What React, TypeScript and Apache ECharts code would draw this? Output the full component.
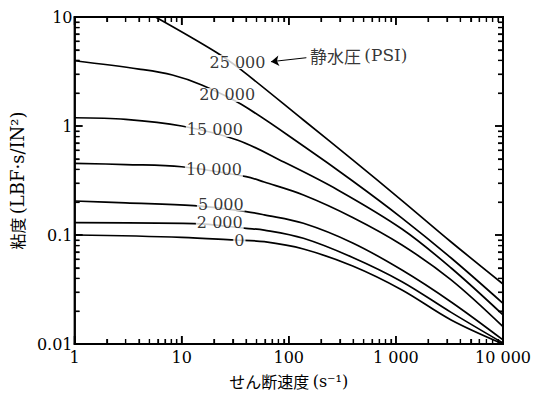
import React, { useEffect, useRef } from "react";
import * as echarts from "echarts";

// shear rate (s^-1) vs viscosity (LBF·s/IN²), one curve per hydrostatic pressure (PSI)
const pressureLabels = ["25 000", "20 000", "15 000", "10 000", "5 000", "2 000", "0"];

const curve25000 = [[5.7, 10], [21, 4.75], [36, 3.27], [137, 1.135], [395, 0.488], [1140, 0.207], [3280, 0.0863], [10000, 0.0355]];
const curve20000 = [[1, 3.97], [4, 3.33], [8.2, 2.94], [15.4, 2.38], [36, 1.58], [137, 0.655], [395, 0.313], [1140, 0.143], [3280, 0.0615], [10000, 0.0236]];
const curve15000 = [[1, 1.19], [3, 1.15], [10, 1.0], [33, 0.744], [90, 0.467], [287, 0.259], [1140, 0.1135], [3280, 0.0498], [10000, 0.0185]];
const curve10000 = [[1, 0.455], [3, 0.443], [10, 0.423], [40, 0.343], [59, 0.306], [137, 0.233], [395, 0.145], [1140, 0.081], [3280, 0.0387], [10000, 0.0144]];
const curve5000 = [[1, 0.205], [3, 0.197], [13, 0.186], [40, 0.164], [59, 0.153], [137, 0.128], [395, 0.0845], [1140, 0.0477], [3280, 0.0243], [10000, 0.0109]];
const curve2000 = [[1, 0.13], [13, 0.127], [40, 0.115], [59, 0.111], [137, 0.0933], [395, 0.0622], [1140, 0.0373], [3280, 0.0195], [10000, 0.0102]];
const curve0 = [[1, 0.1], [10, 0.0953], [31, 0.09], [59, 0.0868], [137, 0.0744], [395, 0.0519], [1140, 0.0313], [3280, 0.0166], [10000, 0.01]];

const curves = [curve25000, curve20000, curve15000, curve10000, curve5000, curve2000, curve0];

// label anchor points (data coordinates)
const labelPoints = [[33.2, 3.86], [26.6, 1.925], [20.4, 0.919], [20.0, 0.395], [23.2, 0.1905], [22.7, 0.1289], [34.6, 0.0886]];

const annotationText = "静水圧 (PSI)";
const annotationPoint = [158, 4.44];
const arrowFrom = [68.2, 3.89];
const arrowTo = [146, 4.23];

const xMin = 1;
const xMax = 10000;
const yMin = 0.01;
const yMax = 10;
const xMajor = [1, 10, 100, 1000, 10000];
const yMajor = [0.01, 0.1, 1, 10];
const minorSteps = [2, 3, 4, 5, 6, 7, 8, 9];

const SERIF = "DejaVu Serif";
const CJK = "Noto Sans CJK JP";
const INK = "#000";

function fmtThousands(v: number): string {
  return String(Math.round(v)).replace(/\B(?=(\d{3})+(?!\d))/g, " ");
}
function fmtY(v: number): string {
  if (v >= 1) return String(Math.round(v));
  return String(Number(v.toPrecision(1)));
}

function frameParts() {
  return {
    axisLine: { show: true, onZero: false, lineStyle: { color: INK, width: 1.8 } },
    axisTick: { show: true, inside: true, length: 8, lineStyle: { color: INK, width: 1.5 } },
    minorTick: { show: true, splitNumber: 9, length: 5, lineStyle: { color: INK, width: 1.2 } },
    splitLine: { show: false },
    minorSplitLine: { show: false },
  };
}

export default function App() {
  const ref = useRef<HTMLDivElement>(null);
  useEffect(() => {
    if (!ref.current) return;
    const chart = echarts.init(ref.current, undefined, { renderer: "svg" });

    const lineSeries: any[] = curves.map((c, i) => ({
      type: "line",
      name: pressureLabels[i],
      data: c,
      showSymbol: false,
      symbol: "none",
      smooth: 0.35,
      lineStyle: { color: INK, width: 1.7 },
      z: 2,
      silent: true,
    }));

    const baseSeries: any[] = [
      ...lineSeries,
      {
        type: "scatter",
        silent: true,
        z: 10,
        symbolSize: 0,
        data: labelPoints.map((p, i) => ({ value: p, name: pressureLabels[i] })),
        label: {
          show: true,
          position: "inside",
          formatter: "{b}",
          color: INK,
          fontFamily: SERIF,
          fontSize: 16,
          lineHeight: 14,
          backgroundColor: "#fff",
          padding: [0, 1],
        },
      },
      {
        type: "scatter",
        silent: true,
        z: 10,
        symbolSize: 0,
        data: [{ value: annotationPoint, name: annotationText }],
        label: {
          show: true,
          position: "right",
          distance: 0,
          formatter: "{c|静水圧} {l|(PSI)}",
          rich: {
            c: { fontFamily: CJK, fontSize: 17, color: INK },
            l: { fontFamily: SERIF, fontSize: 17, color: INK },
          },
        },
        markLine: {
          silent: true,
          animation: false,
          symbol: ["arrow", "none"],
          symbolSize: 8,
          label: { show: false },
          lineStyle: { color: INK, width: 1, type: "solid" },
          data: [[{ coord: arrowFrom }, { coord: arrowTo }]],
        },
      },
    ];

    chart.setOption({
      animation: false,
      grid: { left: 67, right: 31, top: 17, bottom: 57, show: true, borderColor: INK, borderWidth: 1.8, backgroundColor: "transparent" },
      xAxis: [
        {
          type: "log",
          min: xMin,
          max: xMax,
          position: "bottom",
          ...frameParts(),
          axisLabel: {
            color: INK,
            fontFamily: SERIF,
            fontSize: 16,
            margin: 5,
            formatter: (v: number) => fmtThousands(v),
          },
          name: "{c|せん断速度} {l|(s⁻¹)}",
          nameLocation: "middle",
          nameGap: 29,
          nameTextStyle: {
            rich: {
              c: { fontFamily: CJK, fontSize: 16, color: INK },
              l: { fontFamily: SERIF, fontSize: 16, color: INK },
            },
          },
        },
        {
          type: "log",
          min: xMin,
          max: xMax,
          position: "top",
          ...frameParts(),
          axisLabel: { show: false },
        },
      ],
      yAxis: [
        {
          type: "log",
          min: yMin,
          max: yMax,
          position: "left",
          ...frameParts(),
          axisLabel: {
            color: INK,
            fontFamily: SERIF,
            fontSize: 16,
            margin: 2,
            formatter: (v: number) => fmtY(v),
          },
          name: "{c|粘度} {l|(LBF·s/IN²)}",
          nameLocation: "middle",
          nameRotate: 90,
          nameGap: 37,
          nameTextStyle: {
            rich: {
              c: { fontFamily: CJK, fontSize: 16, color: INK },
              l: { fontFamily: SERIF, fontSize: 18, color: INK },
            },
          },
        },
        {
          type: "log",
          min: yMin,
          max: yMax,
          position: "right",
          ...frameParts(),
          axisLabel: { show: false },
        },
      ],
      series: baseSeries,
    });

    // inward tick marks on all four sides, sized through the axes' own log scales
    const xp = (v: number) => Number(chart.convertToPixel({ xAxisIndex: 0 }, v));
    const yp = (v: number) => Number(chart.convertToPixel({ yAxisIndex: 0 }, v));
    const pxPerDecX = Math.abs(xp(10) - xp(1));
    const pxPerDecY = Math.abs(yp(0.1) - yp(1));
    if (isFinite(pxPerDecX) && isFinite(pxPerDecY) && pxPerDecX > 0 && pxPerDecY > 0) {
      const fx = (len: number) => Math.pow(10, len / pxPerDecX);
      const fy = (len: number) => Math.pow(10, len / pxPerDecY);
      const majorTicks: any[] = [];
      const minorTicks: any[] = [];
      const addX = (arr: any[], v: number, len: number) => {
        arr.push([v, yMin], [v, yMin * fy(len)], [v, "-"]);
        arr.push([v, yMax], [v, yMax / fy(len)], [v, "-"]);
      };
      const addY = (arr: any[], v: number, len: number) => {
        arr.push([xMin, v], [xMin * fx(len), v], ["-", v]);
        arr.push([xMax, v], [xMax / fx(len), v], ["-", v]);
      };
      xMajor.forEach((d) => addX(majorTicks, d, 8));
      yMajor.forEach((d) => addY(majorTicks, d, 8));
      xMajor.slice(0, -1).forEach((d) => minorSteps.forEach((k) => addX(minorTicks, d * k, 5)));
      yMajor.slice(0, -1).forEach((d) => minorSteps.forEach((k) => addY(minorTicks, d * k, 5)));

      chart.setOption({
        series: [
          ...baseSeries,
          {
            type: "line",
            name: "major ticks",
            data: majorTicks,
            showSymbol: false,
            symbol: "none",
            connectNulls: false,
            clip: false,
            silent: true,
            z: 3,
            lineStyle: { color: INK, width: 1.5 },
          },
          {
            type: "line",
            name: "minor ticks",
            data: minorTicks,
            showSymbol: false,
            symbol: "none",
            connectNulls: false,
            clip: false,
            silent: true,
            z: 3,
            lineStyle: { color: INK, width: 1.2 },
          },
        ],
      });
    }

    return () => chart.dispose();
  }, []);

  return (
    <div
      ref={ref}
      style={{ position: "fixed", left: 0, top: 0, width: 534, height: 401, background: "#fff" }}
    />
  );
}
